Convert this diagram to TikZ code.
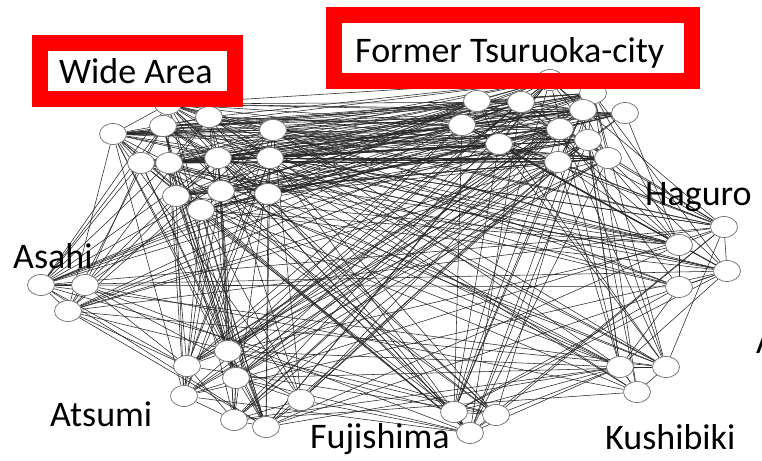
\documentclass[tikz,border=0pt]{standalone}
\usepackage{fontspec}
\setmainfont{Carlito}
\usetikzlibrary{shapes.geometric,backgrounds}
\begin{document}
\begin{tikzpicture}[x=1pt,y=-1pt,
  vtx/.style={ellipse,draw=black!55,line width=0.75pt,fill=white,minimum width=27pt,minimum height=21pt,inner sep=0pt},
  lnk/.style={draw=black!85,line width=0.55pt},
  lbl/.style={inner sep=0pt,anchor=base west,font=\fontsize{36}{40}\selectfont},
  redframe/.style={draw=red,line width=16pt}]
\useasboundingbox (0,0) rectangle (762,460);
% nodes
\foreach \n/\x/\y in {w1/113/134,w2/163/126,w3/209/117,w4/273/130,w5/141/163,w6/169/163,w7/218/158,w8/270/158,w9/176/196,w10/221/191,w11/268/194,w12/201/210,w13/168/104,
  f1/550/80,f2/477/101,f3/521/102,f4/593/93,f5/583/110,f6/625/113,f7/462/125,f8/560/129,f9/588/140,f10/499/144,f11/558/162,f12/608/158,
  h1/724/227,h2/679/245,h3/727/271,h4/679/287,
  a1/41/285,a2/85/285,a3/68/311,
  t1/228/351,t2/187/366,t3/236/378,t4/184/396,t5/234/420,t6/266/427,t7/301/400,
  j1/454/412,j2/496/415,j3/470/433,
  k1/620/367,k2/666/367,k3/637/392}
  \node[vtx] (\n) at (\x,\y) {};
% connectors
\begin{scope}[on background layer]
\fill[white] (0,0) rectangle (762,460);
\pgfmathsetseed{7}
\foreach \u [count=\i] in {w1,w2,w3,w4,w5,w6,w7,w8,w9,w10,w11,w12,w13,f1,f2,f3,f4,f5,f6,f7,f8,f9,f10,f11,f12}{
  \foreach \v [count=\j] in {w1,w2,w3,w4,w5,w6,w7,w8,w9,w10,w11,w12,w13,f1,f2,f3,f4,f5,f6,f7,f8,f9,f10,f11,f12}{
    \ifnum\i<\j
      \pgfmathtruncatemacro\ok{rnd<0.6}
      \ifnum\ok=1 \draw[lnk] (\u) -- (\v);\fi
    \fi}}
\foreach \u in {a1,a2,a3,h1,h2,h3,h4,t1,t2,t3,t4,t5,t6,t7,j1,j2,j3,k1,k2,k3}{
  \foreach \v in {w1,w2,w3,w4,w5,w6,w7,w8,w9,w10,w11,w12,w13,f1,f2,f3,f4,f5,f6,f7,f8,f9,f10,f11,f12}{
      \pgfmathtruncatemacro\ok{rnd<0.36}
      \ifnum\ok=1 \draw[lnk] (\u) -- (\v);\fi}}
\foreach \u [count=\i] in {a1,a2,a3,h1,h2,h3,h4,t1,t2,t3,t4,t5,t6,t7,j1,j2,j3,k1,k2,k3}{
  \foreach \v [count=\j] in {a1,a2,a3,h1,h2,h3,h4,t1,t2,t3,t4,t5,t6,t7,j1,j2,j3,k1,k2,k3}{
    \ifnum\i<\j
      \pgfmathtruncatemacro\ok{rnd<0.27}
      \ifnum\ok=1 \draw[lnk] (\u) -- (\v);\fi
    \fi}}
\foreach \u/\v in {a1/a2,a1/a3,a2/a3,h1/h2,h1/h3,h2/h3,h3/h4,h2/h4,t1/t2,t1/t3,t2/t4,t3/t5,t4/t5,t5/t6,t6/t7,t3/t6,j1/j2,j1/j3,j2/j3,k1/k2,k1/k3,k2/k3}
  \draw[lnk] (\u) -- (\v);
\end{scope}
% labelled frames
\draw[redframe] (40,43) rectangle (235,99);
\draw[redframe] (334,15) rectangle (692,81);
\node[lbl] (lwide) at (59,83) {Wide Area};
\node[lbl] (lformer) at (355,63) {Former Tsuruoka-city};
\node[lbl] (lasahi) at (13,268) {Asahi};
\node[lbl] (lhaguro) at (645,205) {Haguro};
\node[lbl] (latsumi) at (50,426) {Atsumi};
\node[lbl] (lfuji) at (310,448) {Fujishima};
\node[lbl] (lkushi) at (605,449) {Kushibiki};
\node[lbl] (lcut) at (756,353) {A};
\end{tikzpicture}
\end{document}
